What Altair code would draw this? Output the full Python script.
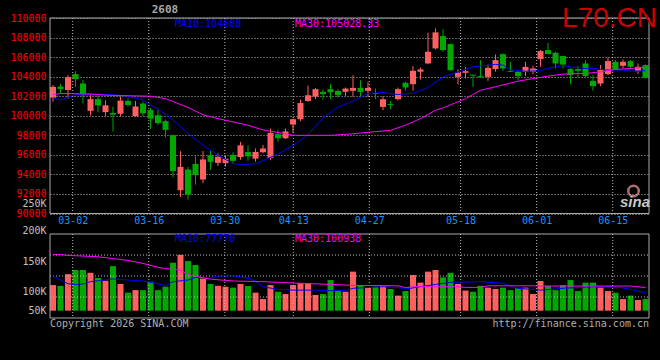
import altair as alt
import pandas as pd

# ---------------- data ----------------
DATES = ["02-25", "02-26", "02-27",
         "03-02", "03-03", "03-04", "03-05", "03-06", "03-09", "03-10", "03-11", "03-12", "03-13",
         "03-16", "03-17", "03-18", "03-19", "03-20", "03-23", "03-24", "03-25", "03-26", "03-27",
         "03-30", "03-31", "04-01", "04-02", "04-03", "04-07", "04-08", "04-09", "04-10",
         "04-13", "04-14", "04-15", "04-16", "04-17", "04-20", "04-21", "04-22", "04-23", "04-24",
         "04-27", "04-28", "04-29", "04-30", "05-06", "05-07", "05-08", "05-11", "05-12", "05-13",
         "05-14", "05-15",
         "05-18", "05-19", "05-20", "05-21", "05-22", "05-25", "05-26", "05-27", "05-28", "05-29",
         "06-01", "06-02", "06-03", "06-04", "06-05", "06-08", "06-09", "06-10", "06-11", "06-12",
         "06-15", "06-16", "06-17", "06-18", "06-22", "06-23"]

OPEN = [101850, 102980, 102630, 104260, 103300, 100500, 101700, 100370, 100280, 100200,
        101520, 99950, 101250, 100580, 100050, 99450, 98000, 92380, 94500, 95080,
        93480, 95960, 95180, 95150, 96000, 95780, 96280, 95620, 96270, 95700,
        98120, 97700, 99100, 99640, 101510, 101950, 102440, 102720, 102540, 102450,
        102550, 102850, 102550, 102320, 100905, 101190, 101690, 103370, 103230, 104500,
        105350, 106890, 108150, 107330, 103980, 104390, 104200, 104050, 103980, 104770,
        106300, 104600, 104500, 104500, 104500, 105800, 106720, 106440, 106100, 104770,
        104770, 105350, 103570, 103300, 104260, 105520, 105110, 105590, 104560, 105180]
HIGH = [103150, 103250, 104150, 104560, 103640, 102100, 102050, 101580, 100930, 101950,
        101750, 101500, 101430, 100800, 100600, 99600, 98050, 96370, 94750, 95870,
        96390, 96420, 96150, 95950, 96250, 97320, 96950, 96650, 97000, 98700,
        98550, 98700, 99700, 101650, 103080, 102850, 102690, 103250, 102700, 102890,
        104150, 103640, 103470, 102790, 102000, 101490, 102890, 103470, 105080, 104920,
        108500, 108940, 108840, 107400, 104740, 105010, 104220, 105690, 105250, 106270,
        106380, 105520, 104560, 105520, 105110, 106720, 107470, 106550, 106150, 104840,
        105080, 105690, 104150, 105180, 105970, 105690, 105760, 105690, 105350, 105250]
LOW = [101430, 102290, 101750, 102950, 101250, 100050, 100370, 99970, 98370, 99970,
       100930, 99900, 99950, 98650, 99050, 97800, 93700, 91700, 91420, 92950,
       93100, 94460, 94850, 94800, 95100, 95500, 95400, 95300, 96150, 95450,
       97350, 97620, 98300, 99450, 101450, 101700, 101670, 101700, 101850, 102030,
       101930, 101930, 101930, 101690, 100560, 100670, 101590, 102550, 102550, 103700,
       105300, 106790, 106550, 104600, 103230, 103810, 102960, 103900, 103570, 104500,
       104600, 104480, 103640, 104050, 104260, 105010, 106300, 104840, 104840, 103230,
       103910, 103910, 102550, 103030, 104150, 104670, 104840, 104840, 104260, 103810]
CLOSE = [102950, 102740, 103950, 103740, 102100, 101700, 101050, 101070, 100110, 101550,
         101100, 100950, 100250, 99700, 99250, 98550, 94350, 94770, 91950, 93920,
         95530, 95280, 95800, 95600, 95380, 96970, 95850, 96300, 96650, 98250,
         97700, 98400, 99650, 101300, 102100, 102720, 102210, 102400, 102100, 102780,
         102850, 102440, 102850, 102220, 101690, 101100, 102720, 102890, 104600, 104740,
         106550, 108530, 106720, 104670, 104390, 104560, 104100, 103920, 104900, 105690,
         104840, 104500, 104050, 105000, 104830, 106610, 106310, 105350, 105250, 104150,
         104600, 104050, 103030, 104670, 105590, 104770, 105520, 105010, 105010, 103880]
VOLUME_K = [112, 108, 160, 178, 178, 166, 143, 131, 195, 117,
            79, 90, 90, 127, 90, 105, 210, 244, 217, 200,
            141, 117, 109, 105, 101, 117, 108, 79, 51, 112,
            83, 73, 112, 120, 120, 69, 73, 134, 88, 83,
            171, 109, 101, 105, 109, 95, 66, 86, 156, 123,
            171, 178, 146, 166, 117, 88, 83, 109, 101, 95,
            101, 90, 98, 101, 73, 130, 109, 90, 112, 134,
            86, 123, 123, 101, 86, 79, 51, 66, 47, 51]

MA10_IDX = [0, 1, 2, 3, 5, 8, 10, 12, 13, 14, 16, 18, 20, 22, 24, 25, 27, 28, 30, 32,
            34, 36, 38, 40, 42, 44, 46, 48, 50, 52, 54, 56, 57, 59, 60, 61, 63, 65, 66, 68,
            69, 71, 72, 74, 76, 77, 79]
MA10_VAL = [101850, 101600, 101900, 102170, 102220, 102150, 102000, 101600, 101100, 100700,
            99550, 98200, 96980, 95950, 95100, 94990, 95100, 95400, 96100, 96950,
            98100, 99800, 100900, 101500, 102280, 102380, 102170, 102300, 102890, 103980,
            104490, 105000, 105100, 105250, 105180, 104700, 104560, 104600, 104850, 105150,
            105000, 104840, 104840, 104670, 104670, 104560, 104608]
MA30_IDX = [0, 1, 5, 7, 13, 15, 18, 20, 22, 23, 26, 28, 31, 32, 37, 40, 41, 45, 47, 49,
            51, 52, 55, 57, 60, 62, 64, 66, 68, 71, 73, 75, 77, 79]
MA30_VAL = [102150, 102280, 102220, 102100, 102000, 101750, 100850, 100100, 99700, 99540,
            99030, 98550, 98150, 98000, 98000, 98150, 98240, 98510, 99030, 99710,
            100560, 100800, 101750, 102600, 103150, 103540, 103800, 104050, 104260, 104330,
            104490, 104740, 104840, 104950]
VMA10_IDX = [0, 1, 2, 3, 4, 5, 8, 10, 12, 14, 15, 16, 18, 19, 21, 22, 24, 26, 27, 28,
             30, 32, 35, 37, 39, 40, 44, 46, 47, 49, 51, 53, 57, 60, 62, 64, 65, 68, 72, 75,
             77, 79]
VMA10_K = [149, 134, 118, 115, 117, 127, 139, 134, 130, 118, 109, 127, 134, 146, 144, 152, 153, 142, 130, 105,
           93, 90, 90, 88, 88, 98, 105, 101, 95, 105, 115, 124, 127, 120, 98, 93, 90, 98, 105, 105,
           93, 78]
VMA30_IDX = [0, 1, 2, 6, 8, 10, 12, 14, 15, 17, 18, 20, 21, 24, 28, 33, 37, 40, 46, 47,
             48, 54, 55, 57, 58, 64, 65, 77, 79]
VMA30_K = [246, 246, 242, 236, 228, 220, 207, 190, 184, 178, 159, 144, 138, 130, 127, 120, 115, 111, 109, 101,
           105, 105, 102, 102, 109, 109, 108, 108, 101]

LABEL_DATES = ["03-02", "03-16", "03-30", "04-13", "04-27", "05-18", "06-01", "06-15"]
PRICE_TICKS = list(range(90000, 110001, 2000))
VOL_LABELS = ["250K", "200K", "150K", "100K", "50K"]

TITLE = "2608"
CODE = "L70.CN"
MA10_TXT = "MA10:104608"
MA30_TXT = "MA30:105028.33"
VMA10_TXT = "MA10:77770"
VMA30_TXT = "MA30:100938"
COPY_TXT = "Copyright 2026 SINA.COM"
URL_TXT = "http://finance.sina.com.cn"

# ---------------- layout / style ----------------
W, H = 599, 300
PRICE_BOTTOM = 195.5
VOL_TOP, VOL_BOTTOM = 216, 300
VOL_ZERO = 292.7
VOL_PX = 0.2285
VOL_AXIS_TOP = 180
VOL_LABEL_Y = [185.7, 213, 243, 273, 293]
GRID_STEP, GRID_SHIFT = 1.0141, -0.416
HALF = 0.4

MONO = "DejaVu Sans Mono"
UP, DOWN = "#FF5F5F", "#00A800"
BLUE, MAGENTA = "#0000FF", "#FF00FF"
GRID = "#BBBBBB"
FRAME = "#AAAAAA"
GRAYTXT = "#C0C0C0"

df = pd.DataFrame({"i": range(len(DATES)), "date": DATES, "o": OPEN, "h": HIGH,
                   "l": LOW, "c": CLOSE, "v": VOLUME_K})
df["dir"] = ["up" if c >= o else "down" for o, c in zip(OPEN, CLOSE)]


def price_scale():
    return alt.Scale(domain=[90000, 110000], range=[PRICE_BOTTOM, 0], nice=False, zero=False)


def vol_scale():
    return alt.Scale(domain=[(VOL_ZERO - VOL_BOTTOM) / VOL_PX, (VOL_ZERO - VOL_AXIS_TOP) / VOL_PX],
                     range=[VOL_BOTTOM, VOL_AXIS_TOP], nice=False, zero=False)


X_SCALE = alt.Scale(domain=[-0.4, 79.4667], nice=False, zero=False)
COLOR = alt.Color("dir:N", scale=alt.Scale(domain=["up", "down"], range=[UP, DOWN]), legend=None)

tick_vals = [round(DATES.index(d) * GRID_STEP + GRID_SHIFT, 3) for d in LABEL_DATES]
date_expr = " : ".join(f"datum.value == {v} ? '{d}'" for v, d in zip(tick_vals, LABEL_DATES)) + " : ''"
X_AXIS = alt.Axis(values=tick_vals, labelExpr=date_expr, orient="bottom", offset=-(H - PRICE_BOTTOM),
                  ticks=False, domain=False, grid=False, labelColor="#1E90FF", labelFont=MONO,
                  labelFontSize=10, labelPadding=2, labelOverlap=False, labelFlush=False, title=None)


def X(field):
    # every layer that shares x carries the same axis definition
    return alt.X(field, scale=X_SCALE, axis=X_AXIS)


PRICE_AXIS = alt.Axis(values=PRICE_TICKS, format="d", labelColor="#FF0000", labelFont=MONO,
                      labelFontSize=10, labelPadding=4, ticks=False, domain=False, grid=True,
                      gridColor=GRID, gridDash=[1, 2], labelOverlap=False, title=None, orient="left")

vol_vals = [round((VOL_ZERO - y) / VOL_PX, 1) for y in VOL_LABEL_Y]
vol_expr = " : ".join(f"datum.value == {v} ? '{t}'" for v, t in zip(vol_vals, VOL_LABELS)) + " : ''"
VOL_AXIS = alt.Axis(values=vol_vals, labelExpr=vol_expr, labelColor=GRAYTXT, labelFont=MONO,
                    labelFontSize=10, labelPadding=4, ticks=False, domain=False, grid=False,
                    labelOverlap=False, title=None, orient="left")

base = alt.Chart(df).transform_calculate(xl=f"datum.i - {HALF}", xr=f"datum.i + {HALF}")

wicks = base.mark_rule(strokeWidth=1).encode(
    x=X("i:Q"), y=alt.Y("l:Q", scale=price_scale(), axis=PRICE_AXIS),
    y2="h:Q", color=COLOR)
bodies = base.mark_rect().encode(
    x=X("xl:Q"), x2="xr:Q",
    y=alt.Y("o:Q", scale=price_scale(), axis=None), y2="c:Q", color=COLOR)
vbars = base.mark_rect().encode(
    x=X("xl:Q"), x2="xr:Q",
    y=alt.Y("v:Q", scale=vol_scale(), axis=VOL_AXIS), y2=alt.datum(0), color=COLOR)


def ma_line(idx, vals, color, scale):
    d = pd.DataFrame({"i": idx, "val": vals})
    return alt.Chart(d).mark_line(strokeWidth=1, color=color).encode(
        x=X("i:Q"), y=alt.Y("val:Q", scale=scale, axis=None))


ticks_df = pd.DataFrame({"t": tick_vals})
vgrid_price = alt.Chart(ticks_df).mark_rule(color=GRID, strokeDash=[1, 2]).encode(
    x=X("t:Q"), y=alt.value(0), y2=alt.value(PRICE_BOTTOM))
vgrid_vol = alt.Chart(ticks_df).mark_rule(color=GRID, strokeDash=[1, 2]).encode(
    x=X("t:Q"), y=alt.value(VOL_TOP), y2=alt.value(VOL_BOTTOM))
hgrid_vol = alt.Chart(pd.DataFrame({"q": [1, 2, 3]})).mark_rule(color=GRID, strokeDash=[1, 2]).encode(
    y=alt.Y("q:Q", scale=alt.Scale(domain=[0, 4], range=[VOL_BOTTOM, VOL_TOP]), axis=None),
    x=alt.value(0), x2=alt.value(W))

one = pd.DataFrame({"k": [0]})


def frame(y0, y1):
    return alt.Chart(one).mark_rect(fillOpacity=0, stroke=FRAME, strokeWidth=1).encode(
        x=alt.value(0), x2=alt.value(W), y=alt.value(y0), y2=alt.value(y1))


def label(txt, x, y, color, size=10, align="left", baseline="middle", font=MONO, **kw):
    return alt.Chart(one).mark_text(text=txt, color=color, fontSize=size, align=align,
                                    baseline=baseline, font=font, **kw).encode(
        x=alt.value(x), y=alt.value(y))


texts = [
    label(TITLE, 115, -8.5, "#A8A8A8", size=11, align="center", fontWeight="bold"),
    label(CODE, 607, 9, "#CC0000", size=28, align="right", baseline="alphabetic", font="Liberation Sans"),
    label(MA10_TXT, 125, 5.7, BLUE),
    label(MA30_TXT, 245, 5.7, MAGENTA),
    label(VMA10_TXT, 125, 220.8, BLUE),
    label(VMA30_TXT, 245, 220.8, MAGENTA),
    label(COPY_TXT, 0, 305.7, "#B0B0B0"),
    label(URL_TXT, W, 305.7, "#B0B0B0", align="right"),
    label("sina", 585, 183.5, "#C8C8C8", size=15, align="center", font="Liberation Sans",
          fontWeight="bold", fontStyle="italic"),
]
eye = alt.Chart(one).mark_point(shape="circle", size=110, stroke="#F4A0A8", strokeWidth=2.5,
                                filled=False).encode(x=alt.value(583.5), y=alt.value(173))

chart = alt.layer(
    wicks, vbars, vgrid_price, vgrid_vol, hgrid_vol, bodies,
    ma_line(MA10_IDX, MA10_VAL, BLUE, price_scale()),
    ma_line(MA30_IDX, MA30_VAL, MAGENTA, price_scale()),
    ma_line(VMA10_IDX, VMA10_K, BLUE, vol_scale()),
    ma_line(VMA30_IDX, VMA30_K, MAGENTA, vol_scale()),
    frame(0, PRICE_BOTTOM), frame(VOL_TOP, VOL_BOTTOM),
    eye, *texts,
).resolve_scale(y="independent").properties(
    width=W, height=H,
    autosize=alt.AutoSizeParams(type="none"),
    padding={"left": 50, "top": 18, "right": 11, "bottom": 42},
    background="#000000",
).configure_view(strokeWidth=0)

chart.save("out.html", embed_options={"renderer": "svg", "actions": False})
